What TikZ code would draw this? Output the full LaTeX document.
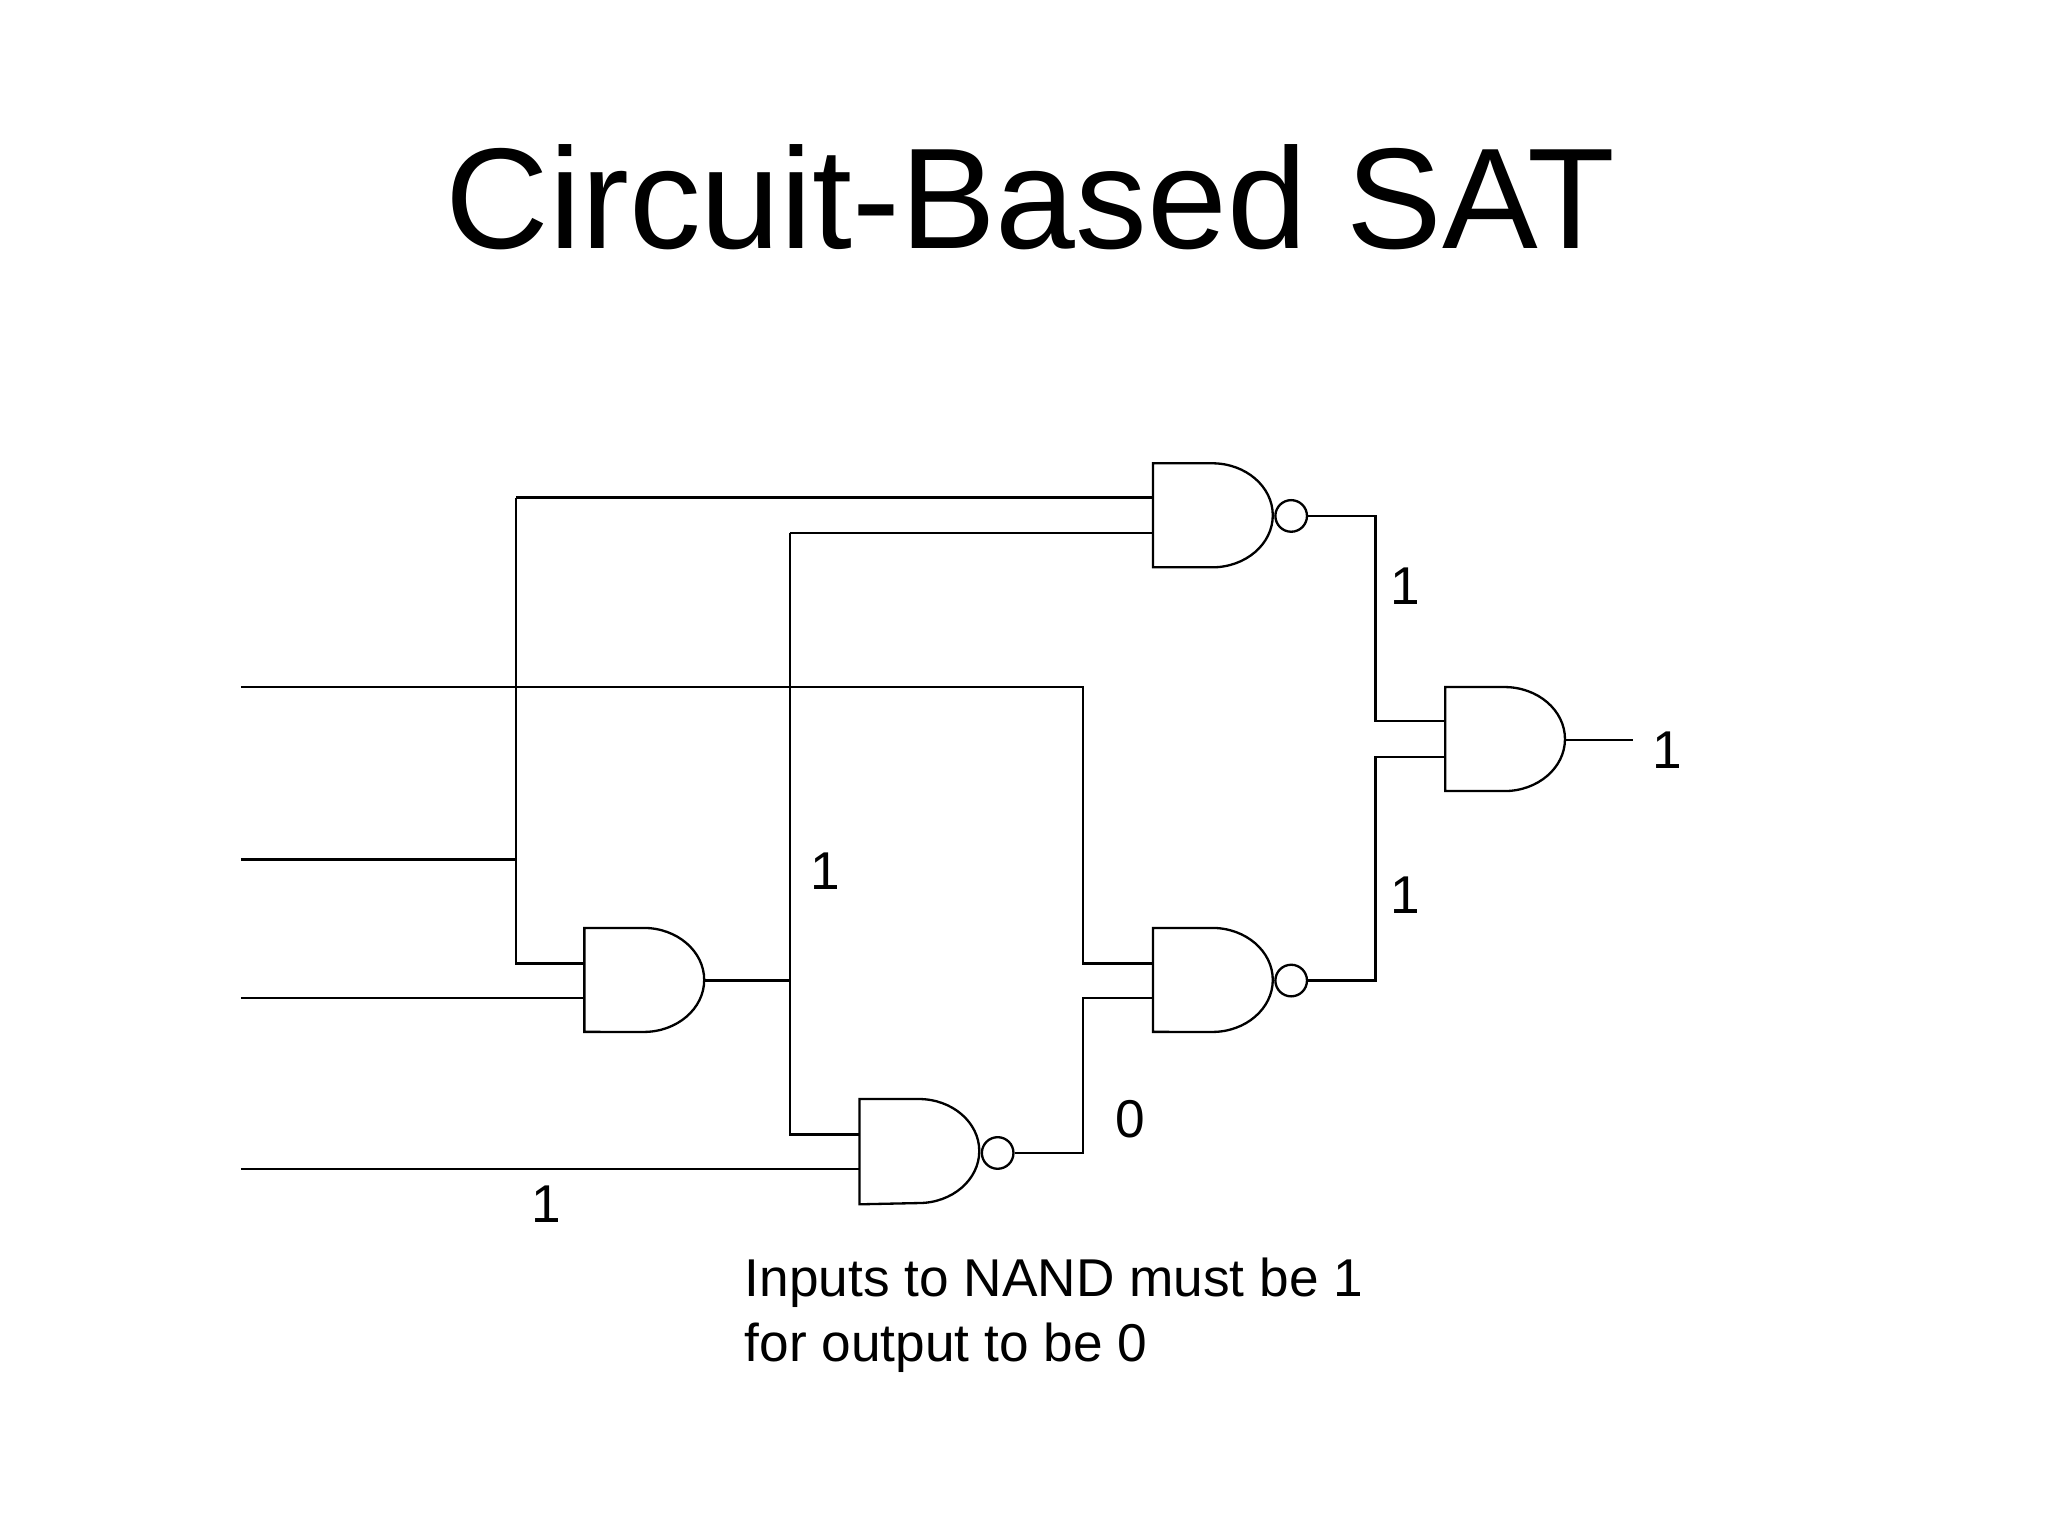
\documentclass[tikz,border=0pt]{standalone}
\usepackage{fontspec}
\setmainfont{Liberation Sans}
\begin{document}
\begin{tikzpicture}[x=0.01cm,y=-0.01cm,line width=0.5pt,
  lbl/.style={font=\fontsize{11.5pt}{14pt}\selectfont},
  bub/.style={circle,draw,inner sep=0pt,minimum size=0.24cm}]
\useasboundingbox (0,0) rectangle (1556,1167);
\newcommand{\gateshape}[3]{% x0, top, bottom
  \draw (#1,#2) -- ({#1+45},#2) arc[start angle=90,end angle=-90,x radius=0.46cm,y radius=0.395cm] -- (#1,#3) -- cycle;}
\node[font=\fontsize{31pt}{36pt}\selectfont] (title) at (783,150) {Circuit-Based SAT};
% gates
\gateshape{876}{352}{431}
\node[bub] (b1) at (981,392) {};
\gateshape{1098}{522}{601}
\gateshape{876}{705}{784}
\node[bub] (b2) at (981,745) {};
\gateshape{444}{705}{784}
\gateshape{653}{835}{915}
\node[bub] (b3) at (758,876) {};
% wires
\draw (392,378) -- (876,378);
\draw (600,405) -- (876,405);
\draw (183,522) -- (823,522) -- (823,732) -- (876,732);
\draw (183,653) -- (392,653);
\draw (392,378) -- (392,732) -- (444,732);
\draw (183,758) -- (444,758);
\draw (536,745) -- (600,745);
\draw (600,405) -- (600,862) -- (653,862);
\draw (183,888) -- (653,888);
\draw (b3.east) -- (823,876) -- (823,758) -- (876,758);
\draw (b1.east) -- (1045,392) -- (1045,548) -- (1098,548);
\draw (b2.east) -- (1045,745) -- (1045,575) -- (1098,575);
\draw (1189,562) -- (1241,562);
% labels
\node[lbl] (l1) at (1068,445) {1};
\node[lbl] (l2) at (1267,570) {1};
\node[lbl] (l3) at (627,662) {1};
\node[lbl] (l4) at (1068,680) {1};
\node[lbl] (l5) at (859,850) {0};
\node[lbl] (l6) at (415,915) {1};
\node[lbl,anchor=north west,align=left,inner sep=0pt] (note) at (565,955) {Inputs to NAND must be 1\\for output to be 0};
\end{tikzpicture}
\end{document}
